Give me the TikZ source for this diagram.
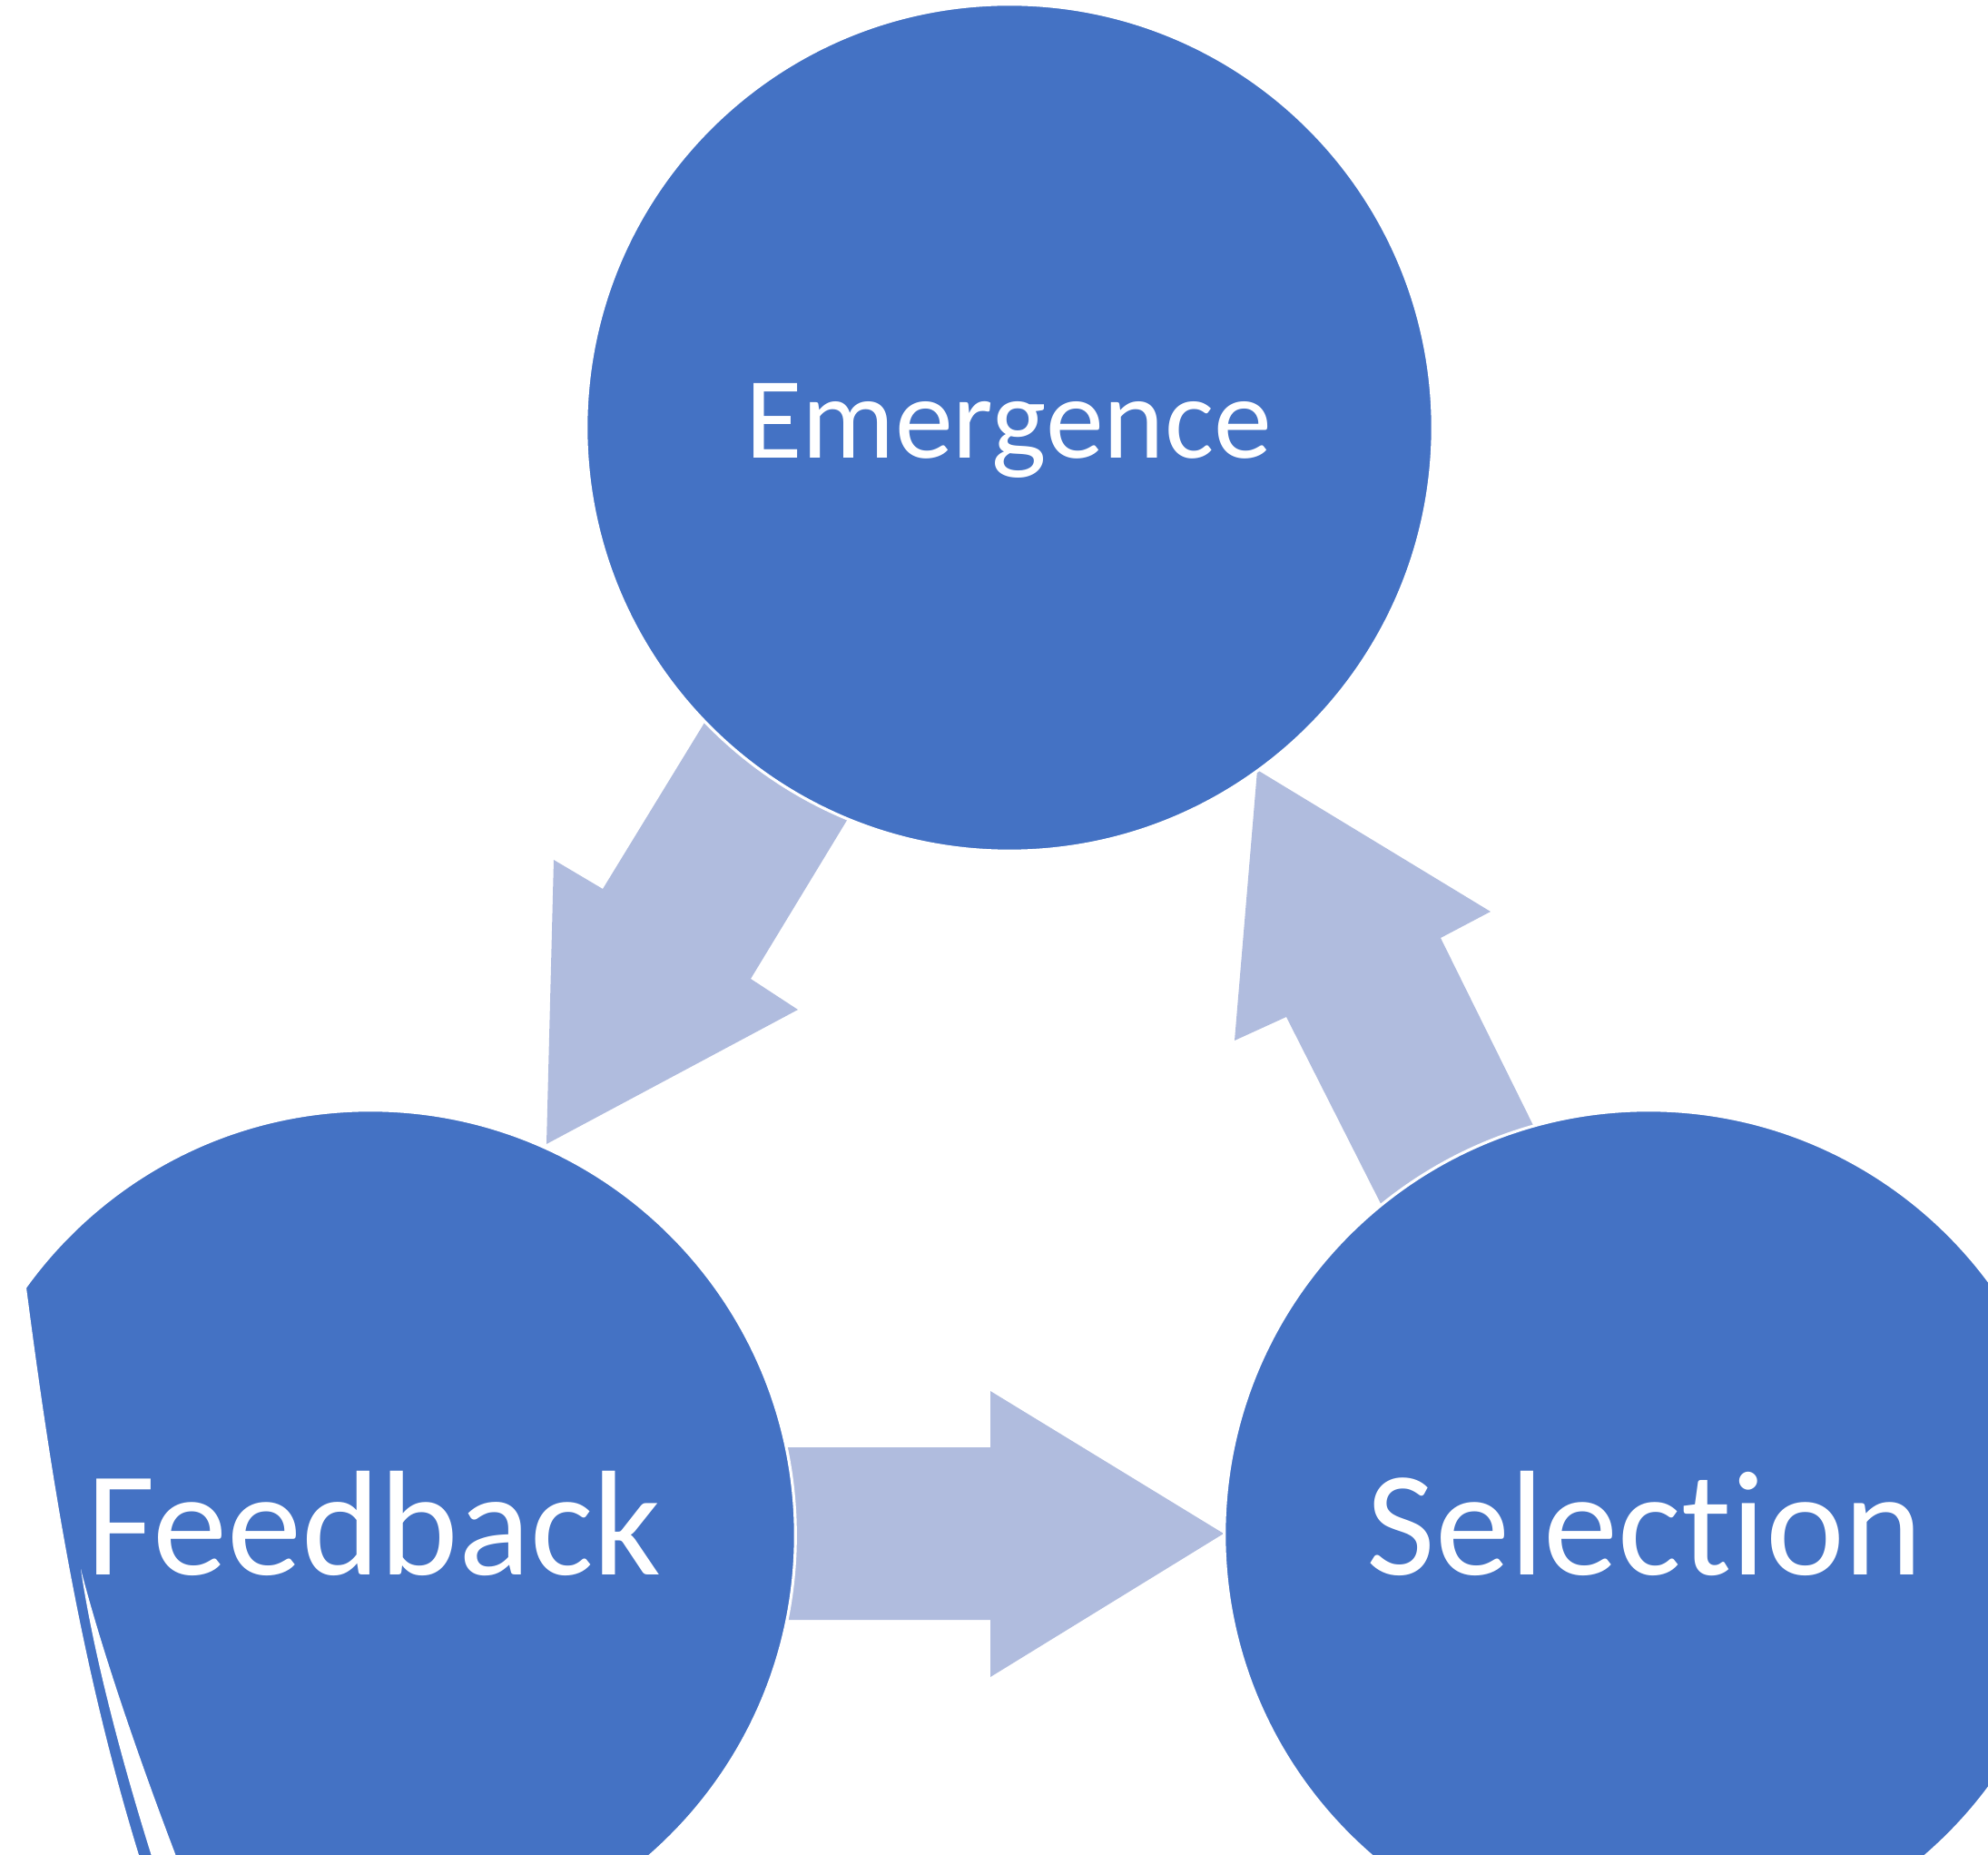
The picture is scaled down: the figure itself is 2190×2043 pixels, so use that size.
\documentclass[tikz,border=0pt]{standalone}
\usepackage{fontspec}
\setmainfont{Carlito}[Ligatures={NoCommon,NoContextual}]
\definecolor{discblue}{HTML}{4472C4}
\definecolor{arrowblue}{RGB}{176,188,222}
\begin{document}
\begin{tikzpicture}[x=0.01cm, y=-0.01cm,
  disc/.style={circle, fill=discblue, draw=white, line width=0.9pt, inner sep=0pt},
  blockarrow/.style={fill=arrowblue},
  caption/.style={text=white, anchor=base, inner sep=0pt}]
\useasboundingbox (0,0) rectangle (2190,2043);
\clip (0,0) rectangle (2190,2043);

% block arrows (drawn first, tails tucked under the discs)
\fill[blockarrow] (806,747) -- (963,854) -- (827,1078) -- (879,1112)
  -- (602,1260) -- (610,947) -- (664,979) -- cycle;
\fill[blockarrow] (1547,1377) -- (1714,1290) -- (1587,1033) -- (1642,1004)
  -- (1385,848) -- (1360,1146) -- (1417,1120) -- cycle;
\fill[blockarrow] (820,1594) -- (1091,1594) -- (1091,1532) -- (1348,1689)
  -- (1091,1847) -- (1091,1784) -- (820,1784) -- cycle;

% discs
\node[disc, minimum size=9.32cm] (emergence) at (1112,471) {};
\node[disc, minimum size=9.36cm] (feedback) at (408,1691) {};
\node[disc, minimum size=9.34cm] (selection) at (1816,1690) {};

% ragged left edge of the feedback disc
\fill[white] (-10,1418) -- (29,1418)
  .. controls (56,1626) and (89,1835) .. (153,2043) -- (153,2060) -- (-10,2060) -- cycle;
\fill[white] (89,1728) .. controls (104,1830) and (140,1960) .. (172,2060)
  -- (200,2060) .. controls (150,1930) and (110,1810) .. (89,1728) -- cycle;

% captions
\node[caption, font=\fontsize{36.4pt}{40pt}\selectfont] (t1) at (1111,505) {Emergence};
\node[caption, font=\fontsize{46.8pt}{50pt}\selectfont] (t2) at (412,1734) {Feedback};
\node[caption, font=\fontsize{46.8pt}{50pt}\selectfont] (t3) at (1812,1734) {Selection};
\end{tikzpicture}
\end{document}
